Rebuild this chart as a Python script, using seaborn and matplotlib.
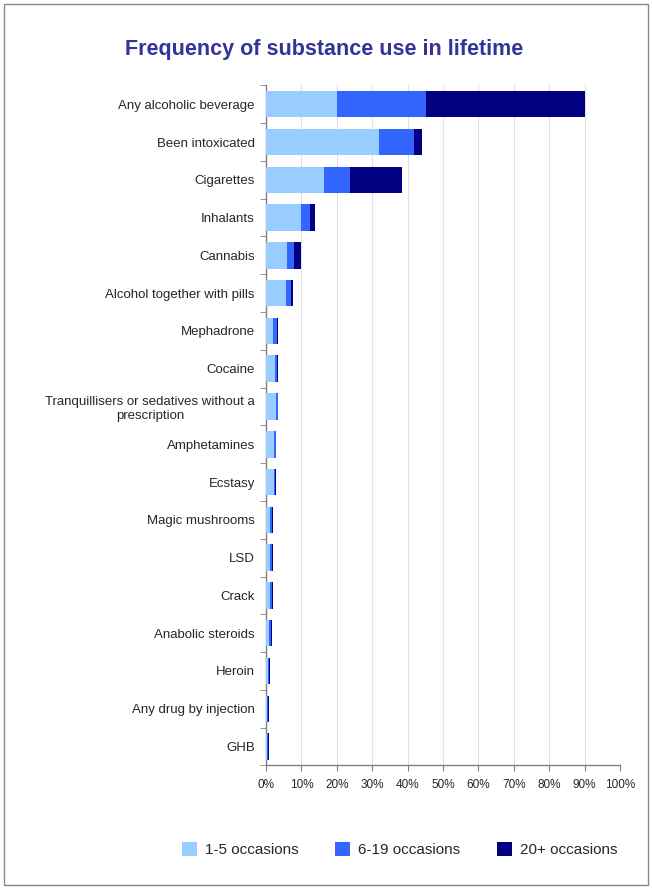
import numpy as np
import pandas as pd
import seaborn as sns
import matplotlib.pyplot as plt
from matplotlib.patches import Patch
from matplotlib.ticker import PercentFormatter, FixedLocator

substances = [
    "Any alcoholic beverage", "Been intoxicated", "Cigarettes", "Inhalants",
    "Cannabis", "Alcohol together with pills", "Mephadrone", "Cocaine",
    "Tranquillisers or sedatives without a\nprescription", "Amphetamines",
    "Ecstasy", "Magic mushrooms", "LSD", "Crack", "Anabolic steroids",
    "Heroin", "Any drug by injection", "GHB",
]
occ_1_5 = [20.0, 31.8, 16.4, 9.8, 6.0, 5.6, 2.1, 2.4, 2.8, 2.2, 2.2, 1.2, 1.2, 1.2, 0.9, 0.6, 0.2, 0.2]
occ_6_19 = [25.2, 9.9, 7.3, 2.5, 1.9, 1.4, 1.1, 0.8, 0.5, 0.5, 0.3, 0.6, 0.4, 0.4, 0.4, 0.3, 0.3, 0.3]
occ_20p = [44.8, 2.4, 14.8, 1.5, 1.9, 0.5, 0.1, 0.2, 0.1, 0.1, 0.3, 0.1, 0.3, 0.3, 0.3, 0.2, 0.3, 0.3]

series = ["1-5 occasions", "6-19 occasions", "20+ occasions"]
colors = ["#99CCFF", "#3366FF", "#000080"]

df = pd.DataFrame({
    "substance": substances,
    "a": occ_1_5,
    "b": occ_6_19,
    "c": occ_20p,
})
df["ab"] = df["a"] + df["b"]
df["abc"] = df["ab"] + df["c"]

sns.set_style("white")
plt.rcParams["font.family"] = ["Liberation Sans", "DejaVu Sans"]

fig = plt.figure(figsize=(6.52, 8.89), dpi=100)
ax = fig.add_axes([0.408, 0.139, 0.543, 0.765])

# stacked bars: draw cumulative totals back to front
for col, c in zip(["abc", "ab", "a"], colors[::-1]):
    sns.barplot(data=df, y="substance", x=col, color=c, saturation=1,
                width=0.7, linewidth=0, ax=ax, zorder=3)

ax.set_xlim(0, 100)
ax.set_xticks(np.arange(0, 101, 10))
ax.xaxis.set_major_formatter(PercentFormatter(decimals=0))
ax.set_xlabel("")
ax.set_ylabel("")
ax.grid(axis="x", color="#e0e0e0", lw=0.8, zorder=0)
ax.set_axisbelow(True)

for s in ["top", "right"]:
    ax.spines[s].set_visible(False)
for s in ["left", "bottom"]:
    ax.spines[s].set_color("#808080")
    ax.spines[s].set_linewidth(1.0)

ax.tick_params(axis="x", length=4, direction="out", color="#808080",
               labelsize=8.5, pad=6, bottom=True)
ax.tick_params(axis="y", length=0, labelsize=9.5, pad=8)
ax.yaxis.set_minor_locator(FixedLocator(np.arange(-0.5, len(substances), 1)))
ax.tick_params(axis="y", which="minor", length=4, direction="out",
               color="#808080", left=True)

for lbl in ax.get_yticklabels():
    lbl.set_multialignment("center")

fig.text(0.497, 0.944, "Frequency of substance use in lifetime", fontsize=15.5,
         fontweight="bold", color="#333399", ha="center", va="center")

handles = [Patch(facecolor=c, edgecolor="none") for c in colors]
fig.legend(handles, series, loc="center", bbox_to_anchor=(0.613, 0.044),
           ncol=3, frameon=False, fontsize=11, handlelength=1.0,
           handleheight=1.0, columnspacing=2.4, handletextpad=0.5)

fig.add_artist(plt.Rectangle((0.006, 0.004), 0.988, 0.991, transform=fig.transFigure,
                             fill=False, ec="#888888", lw=1))

fig.savefig("out.png", dpi=100)
